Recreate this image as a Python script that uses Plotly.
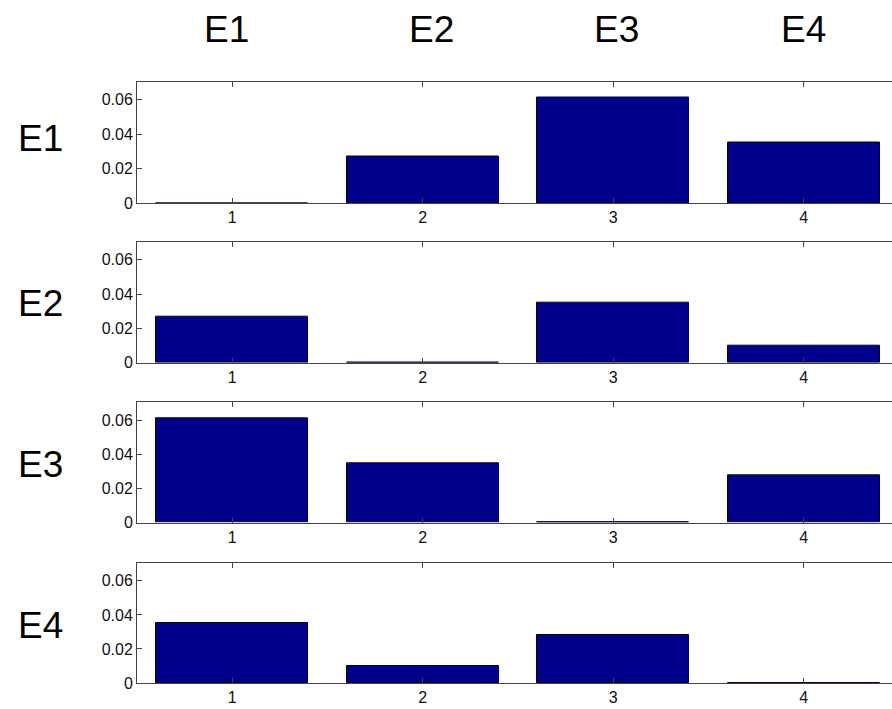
import plotly.graph_objects as go

categories = [1, 2, 3, 4]
row_labels = ["E1", "E2", "E3", "E4"]
col_labels = ["E1", "E2", "E3", "E4"]
row_E1 = [0.0, 0.027, 0.061, 0.035]
row_E2 = [0.027, 0.0, 0.035, 0.010]
row_E3 = [0.061, 0.035, 0.0, 0.028]
row_E4 = [0.035, 0.010, 0.028, 0.0]
rows = [row_E1, row_E2, row_E3, row_E4]
y_ticks = [0, 0.02, 0.04, 0.06]
y_tick_text = ["0", "0.02", "0.04", "0.06"]

W, H = 892, 718
REF_H = 709
left = 137
# pixel top / bottom of each panel (reference image coordinates)
panels = [(81.5, 203), (241.7, 362.7), (402.3, 522.7), (563, 683)]
x_per_unit = 190.5
x_max = 0.5 + (W - left) / x_per_unit


def py(v):
    return 1 - v / REF_H


def px(v):
    return v / W


fig = go.Figure()
tick_font = dict(family="Liberation Sans, Arial, sans-serif", size=16, color="#111")
for i, vals in enumerate(rows):
    n = "" if i == 0 else str(i + 1)
    fig.add_trace(go.Bar(
        x=categories, y=vals, width=0.8,
        marker=dict(color="#00008B", line=dict(color="#000033", width=1)),
        xaxis="x" + n, yaxis="y" + n, showlegend=False,
    ))
    top, bot = panels[i]
    fig.update_layout(**{
        "xaxis" + n: dict(
            domain=[left / W, 1], range=[0.5, x_max], anchor="y" + n,
            tickmode="array", tickvals=categories, ticktext=[str(c) for c in categories],
            ticks="inside", ticklen=5, tickcolor="#444", showline=True, linecolor="#444",
            linewidth=1, mirror="ticks", showgrid=False, zeroline=False,
            tickfont=tick_font, fixedrange=True,
        ),
        "yaxis" + n: dict(
            domain=[py(bot), py(top)], range=[0, 0.0705], anchor="x" + n,
            tickmode="array", tickvals=y_ticks, ticktext=y_tick_text,
            ticks="inside", ticklen=5, tickcolor="#444", showline=True, linecolor="#444",
            linewidth=1, showgrid=False, zeroline=False, tickfont=tick_font,
        ),
    })

annotations = []
label_font = dict(family="Liberation Sans, Arial, sans-serif", size=37, color="black")
col_x = [226, 431, 616, 803]
for lab, cx in zip(col_labels, col_x):
    annotations.append(dict(text=lab, x=px(cx), y=py(29), xref="paper", yref="paper",
                            showarrow=False, xanchor="center", yanchor="middle", font=label_font))
row_y = [138, 303, 464, 625]
for lab, ry in zip(row_labels, row_y):
    annotations.append(dict(text=lab, x=px(40), y=py(ry), xref="paper", yref="paper",
                            showarrow=False, xanchor="center", yanchor="middle", font=label_font))

fig.update_layout(
    width=W, height=H, margin=dict(l=0, r=0, t=0, b=0),
    paper_bgcolor="white", plot_bgcolor="white",
    annotations=annotations, bargap=0,
)
fig.write_html(
    "out.html",
    config={"displayModeBar": False},
    post_script=(
        "document.body.style.margin='0px';"
        "document.documentElement.style.overflow='hidden';"
        "var d=document.getElementById('{plot_id}');"
        "d.style.position='fixed';d.style.top='0px';d.style.left='0px';"
    ),
)
